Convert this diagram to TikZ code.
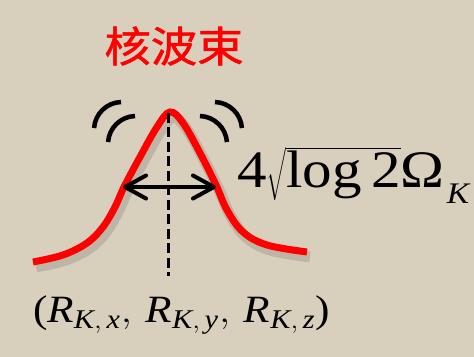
\documentclass[tikz,border=0pt]{standalone}
\usepackage{fontspec}
\setmainfont{Liberation Serif}
\newfontfamily\cjk[FakeBold=1.2]{Noto Sans CJK SC}
\usetikzlibrary{arrows.meta}
\definecolor{paper}{HTML}{D8D0BD}
\definecolor{beamred}{HTML}{FF0000}
\newcommand{\lowk}[1]{\raisebox{-0.3em}{\fontsize{17}{17}\selectfont\itshape #1}}
\tikzset{
  beam/.style={draw=beamred, line width=0.14cm},
  shade/.style={draw=black, opacity=0.12, line width=0.22cm},
  wave/.style={draw=black, line width=0.09cm},
  axisline/.style={draw=black, line width=0.06cm, dash pattern=on 0.2cm off 0.09cm},
  fwhm/.style={{Straight Barb[length=0.42cm, width=0.46cm, round]}-{Straight Barb[length=0.42cm, width=0.46cm, round]},
               line width=0.08cm, draw=black},
  lbl/.style={inner sep=0pt, outer sep=0pt},
}

\begin{document}
\begin{tikzpicture}[x=0.02cm, y=0.02cm]
  \fill[paper] (0,0) rectangle (474,357);
  \useasboundingbox (0,0) rectangle (474,357);
  \node[lbl, text=beamred, xscale=1.1, font=\cjk\fontsize{24}{24}\selectfont] (title) at (174,311) {核波束};
  \coordinate (peak) at (170,245);
  \coordinate (foot) at (168,81);
  \coordinate (hwl) at (123,170);
  \coordinate (hwr) at (216,170);
  \draw[shade, shift={(3,-5)}] plot[smooth, tension=0.6] coordinates {(33,95) (63,102) (87,114) (103,130) (115,150) (124,170) (140,200) (157,230) (170,245) (183,234) (200,204) (216,172) (227,147) (243,125) (267,112) (307,105)};
  \draw[beam] plot[smooth, tension=0.6] coordinates {(33,95) (63,102) (87,114) (103,130) (115,150) (124,170) (140,200) (157,230) (170,245) (183,234) (200,204) (216,172) (227,147) (243,125) (267,112) (307,105)};
  \draw[axisline] (168,244) -- (foot);
  \draw[fwhm] (hwl) -- (hwr);
  \draw[wave] (122,227) ++(176:28) arc[start angle=176, end angle=92, radius=28];
  \draw[wave] (136,213) ++(176:28) arc[start angle=176, end angle=92, radius=28];
  \draw[wave] (214,227) ++(4:28) arc[start angle=4, end angle=88, radius=28];
  \draw[wave] (199,213) ++(4:28) arc[start angle=4, end angle=88, radius=28];
  \node[lbl, anchor=base west, xscale=1.12, font=\fontsize{30}{30}\selectfont] (spread) at (237,169)
    {4$\sqrt{\vphantom{\Big|}\mbox{log\,2}}$Ω\kern1pt\lowk{K}};
  \node[lbl, anchor=base west, xscale=1.12, font=\fontsize{22}{22}\selectfont] (center) at (33,34)
    {($\mathit{R}_{\mathit{K},\,\mathit{x}},\, \mathit{R}_{\mathit{K},\,\mathit{y}},\, \mathit{R}_{\mathit{K},\,\mathit{z}}$)};
\end{tikzpicture}
\end{document}
